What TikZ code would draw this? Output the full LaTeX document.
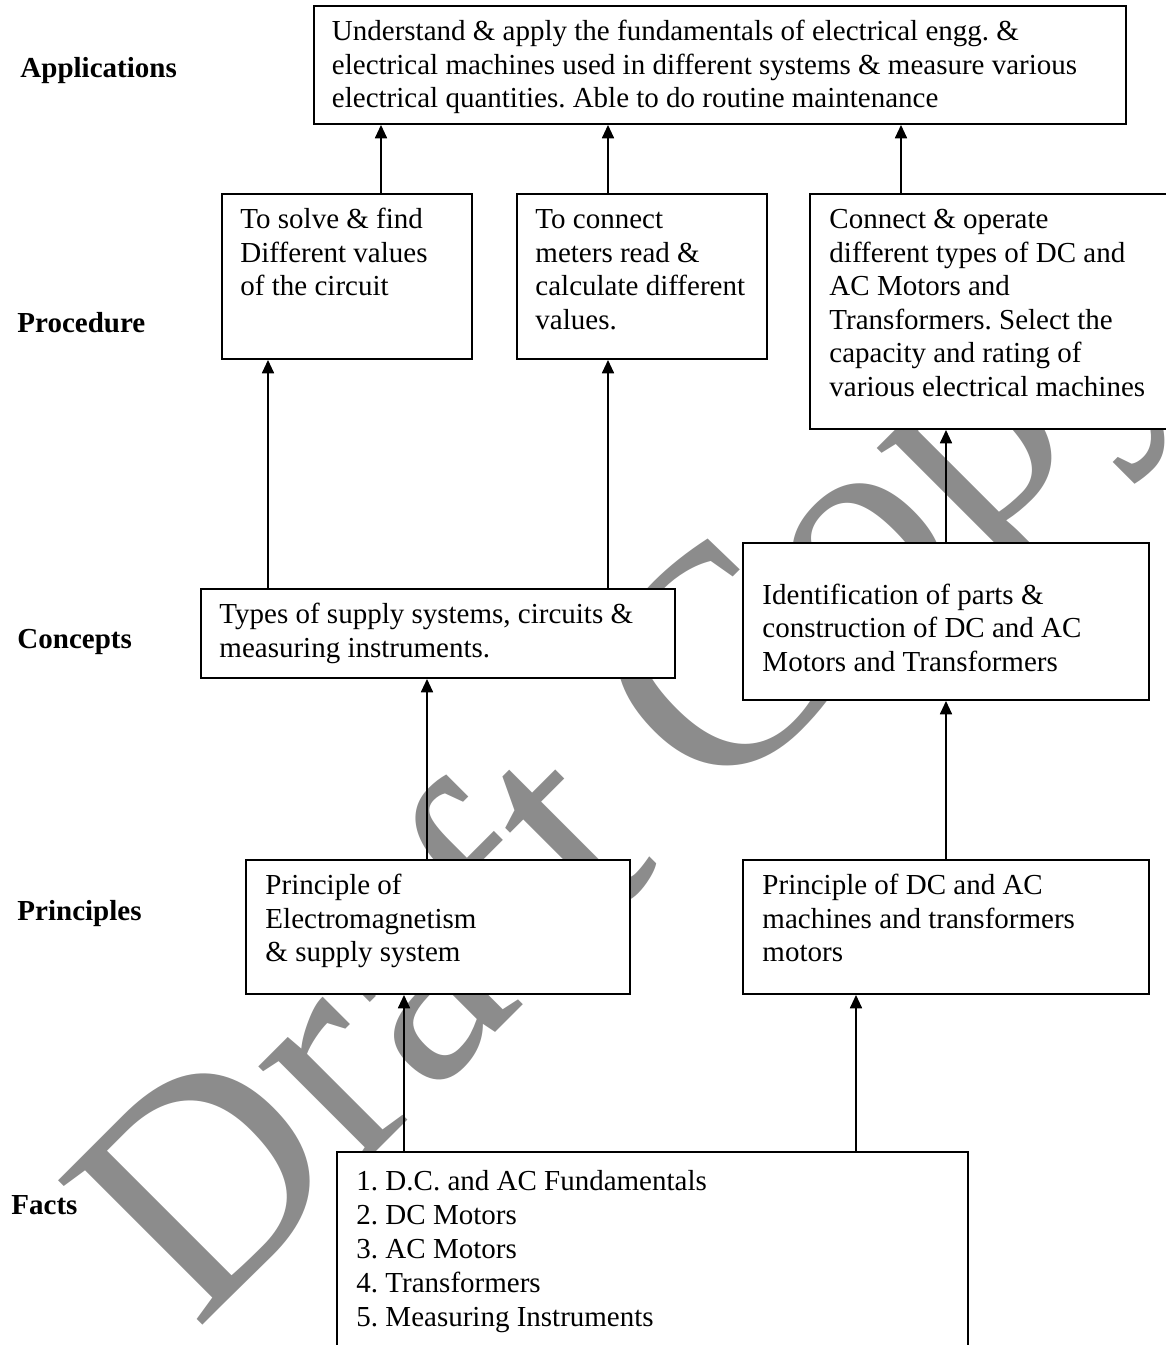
\documentclass[tikz,border=0pt]{standalone}
\usepackage{fontspec}
\setmainfont{Liberation Serif}
\usetikzlibrary{arrows.meta,fit}
\newlength\px
\setlength\px{0.4138pt}
\definecolor{wm}{RGB}{140,140,140}
\frenchspacing
\tikzset{
  boxn/.style={draw=black, line width=0.8pt, fill=white, inner sep=0pt},
  txt/.style={inner sep=0pt, anchor=base west, font=\fontsize{12}{13.9}\selectfont},
  lbl/.style={inner sep=0pt, anchor=base west, font=\fontsize{12}{13.9}\selectfont\bfseries},
  arr/.style={line width=0.6pt, -{Triangle[width=5pt,length=5.5pt]}},
}
\begin{document}
\begin{tikzpicture}[x=\px, y=-\px]
\useasboundingbox (0,0) rectangle (1166,1345);
\begin{scope}
\clip (0,0) rectangle (1166,1345);
% watermark
\node[rotate=45, anchor=base west, inner sep=0pt, text=wm,
      font=\fontsize{129}{129}\selectfont] (wmark) at (196,1332) {Draft Copy};
% boxes
\node[boxn, fit={(314,6) (1126,124)}] (app) {};
\node[boxn, fit={(222,194) (472,359)}] (p1) {};
\node[boxn, fit={(517,194) (767,359)}] (p2) {};
\node[boxn, fit={(810,194) (1200,429)}] (p3) {};
\node[boxn, fit={(201,589) (675,678)}] (c1) {};
\node[boxn, fit={(743,543) (1149,700)}] (c2) {};
\node[boxn, fit={(246,860) (630,994)}] (pr1) {};
\node[boxn, fit={(743,860) (1149,994)}] (pr2) {};
\node[boxn, fit={(337,1152) (968,1400)}] (facts) {};
\end{scope}
% texts in boxes
\node[txt] (appt) at (331.5,40.5) {\parbox[t]{900\px}{Understand \& apply the fundamentals of electrical engg. \&\\electrical machines used in different systems \& measure various\\electrical quantities. Able to do routine maintenance}};
\node[txt] (p1t) at (240,228.5) {\parbox[t]{400\px}{To solve \& find\\Different values\\of the circuit}};
\node[txt] (p2t) at (535,228.5) {\parbox[t]{400\px}{To connect\\meters read \&\\calculate different\\values.}};
\node[txt] (p3t) at (829,228.5) {\parbox[t]{400\px}{Connect \& operate\\different types of DC and\\AC Motors and\\Transformers. Select the\\capacity and rating of\\various electrical machines}};
\node[txt] (c1t) at (219,623.5) {\parbox[t]{600\px}{Types of supply systems, circuits \&\\measuring instruments.}};
\node[txt] (c2t) at (762,604) {\parbox[t]{600\px}{Identification of parts \&\\construction of DC and AC\\Motors and Transformers}};
\node[txt] (pr1t) at (265,894.5) {\parbox[t]{600\px}{Principle of\\Electromagnetism\\\& supply system}};
\node[txt] (pr2t) at (762,894.5) {\parbox[t]{600\px}{Principle of DC and AC\\machines and transformers\\motors}};
\node[txt] (factst) at (356,1190) {\parbox[t]{600\px}{\baselineskip=14.07pt 1. D.C. and AC Fundamentals\\2. DC Motors\\3. AC Motors\\4. Transformers\\5. Measuring Instruments}};
% level labels
\node[lbl] (lapp) at (20,77) {Applications};
\node[lbl] (lproc) at (17,332) {Procedure};
\node[lbl] (lcon) at (17,648) {Concepts};
\node[lbl] (lpri) at (17,920) {Principles};
\node[lbl] (lfac) at (11,1214) {Facts};
% connector columns
\coordinate (xa) at (381,0);
\coordinate (xb) at (608,0);
\coordinate (xc) at (901,0);
\coordinate (xd) at (268,0);
\coordinate (xe) at (946,0);
\coordinate (xf) at (427,0);
\coordinate (xg) at (404,0);
\coordinate (xh) at (856,0);
% arrows
\draw[arr] (p1.north -| xa) -- (app.south -| xa);
\draw[arr] (p2.north -| xb) -- (app.south -| xb);
\draw[arr] (p3.north -| xc) -- (app.south -| xc);
\draw[arr] (c1.north -| xd) -- (p1.south -| xd);
\draw[arr] (c1.north -| xb) -- (p2.south -| xb);
\draw[arr] (c2.north -| xe) -- (p3.south -| xe);
\draw[arr] (pr1.north -| xf) -- (c1.south -| xf);
\draw[arr] (pr2.north -| xe) -- (c2.south -| xe);
\draw[arr] (facts.north -| xg) -- (pr1.south -| xg);
\draw[arr] (facts.north -| xh) -- (pr2.south -| xh);
\end{tikzpicture}
\end{document}
